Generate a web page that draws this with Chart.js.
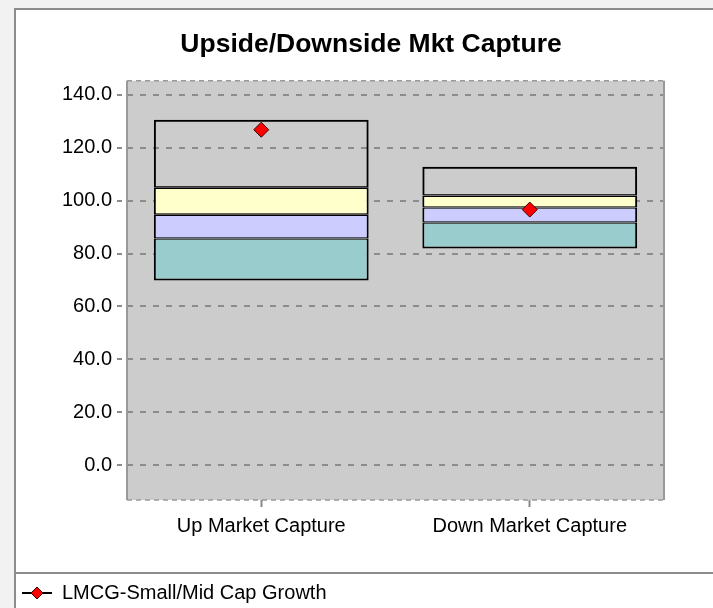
<!DOCTYPE html>
<html lang="en">
<head>
<meta charset="UTF-8">
<title>Upside/Downside Mkt Capture</title>
<script src="https://cdn.jsdelivr.net/npm/chart.js@4.4.1/dist/chart.umd.min.js"></script>
<style>
  html, body { margin: 0; padding: 0; overflow: hidden; background: #f2f2f2; }
  #wrap { position: relative; width: 728px; height: 613px; }
</style>
</head>
<body>
<div id="wrap"><canvas id="captureChart"></canvas></div>
<script>
const categories = ['Up Market Capture', 'Down Market Capture'];
// box bands, bottom to top
const boxBottom = [69.8, 81.9];
const tealTop   = [85.7, 91.7];
const purpleTop = [94.7, 97.4];
const yellowTop = [104.9, 101.9];
const boxTop    = [130.6, 112.8];
const fundValues = [126.8, 96.6];
const fundName = 'LMCG-Small/Mid Cap Growth';
const yTickValues = [0, 20, 40, 60, 80, 100, 120, 140];

Chart.defaults.color = '#000';
Chart.defaults.font.family = '"Liberation Sans", Arial, sans-serif';
Chart.defaults.font.size = 20;

// inner edges are thinner so that neighbouring bands share one line
function band(lo, hi, color, bottomW, topW) {
    return {
        type: 'bar',
        data: lo.map((v, i) => [v, hi[i]]),
        backgroundColor: color,
        borderColor: '#000',
        borderWidth: { left: 2, right: 2, top: topW, bottom: bottomW },
        borderSkipped: false,
        grouped: false,
        barPercentage: 0.8,
        categoryPercentage: 1,
        order: 2
    };
}

// little "-<>-" marker for the legend
const legendMarker = document.createElement('canvas');
legendMarker.width = 30;
legendMarker.height = 14;
(function () {
    const c = legendMarker.getContext('2d');
    c.strokeStyle = '#000';
    c.lineWidth = 2;
    c.beginPath(); c.moveTo(0, 7); c.lineTo(30, 7); c.stroke();
    c.fillStyle = '#ff0000';
    c.strokeStyle = '#400000';
    c.lineWidth = 1;
    c.beginPath();
    c.moveTo(15, 1); c.lineTo(21, 7); c.lineTo(15, 13); c.lineTo(9, 7); c.closePath();
    c.fill(); c.stroke();
})();

const panelPlugin = {
    id: 'panel',
    beforeDraw(chart) {
        const { ctx, chartArea: a } = chart;
        ctx.save();
        ctx.fillStyle = '#ffffff';
        ctx.fillRect(15, 9, chart.width, chart.height);
        ctx.strokeStyle = '#8c8c8c';
        ctx.lineWidth = 2;
        ctx.beginPath();
        ctx.moveTo(15, chart.height); ctx.lineTo(15, 9); ctx.lineTo(chart.width, 9);
        ctx.moveTo(15, 573); ctx.lineTo(chart.width, 573);
        ctx.stroke();
        ctx.fillStyle = '#cccccc';
        ctx.fillRect(a.left, a.top, a.right - a.left, a.bottom - a.top);
        ctx.restore();
    },
    beforeDatasetsDraw(chart) {
        const { ctx, chartArea: a } = chart;
        ctx.save();
        ctx.strokeStyle = '#999999';
        ctx.lineWidth = 2;
        ctx.beginPath();
        ctx.moveTo(a.left, a.top); ctx.lineTo(a.left, a.bottom);
        ctx.moveTo(a.right, a.top); ctx.lineTo(a.right, a.bottom);
        ctx.stroke();
        ctx.setLineDash([5, 4]);
        ctx.lineWidth = 1.5;
        ctx.beginPath();
        ctx.moveTo(a.left, a.top); ctx.lineTo(a.right, a.top);
        ctx.moveTo(a.left, a.bottom); ctx.lineTo(a.right, a.bottom);
        ctx.stroke();
        ctx.restore();
    }
};

new Chart(document.getElementById('captureChart'), {
    type: 'bar',
    data: {
        labels: categories,
        datasets: [
            band(boxBottom, tealTop, '#99cccc', 2, 1.3),
            band(tealTop, purpleTop, '#ccccff', 1.3, 1.3),
            band(purpleTop, yellowTop, '#ffffcc', 1.3, 1.3),
            band(yellowTop, boxTop, 'rgba(0,0,0,0)', 1.3, 2),
            {
                type: 'line',
                label: fundName,
                data: fundValues,
                showLine: false,
                pointStyle: 'rectRot',
                pointRadius: 7.5,
                pointBackgroundColor: '#ff0000',
                pointBorderColor: '#400000',
                pointBorderWidth: 1,
                order: 0
            }
        ]
    },
    options: {
        responsive: true,
        maintainAspectRatio: false,
        animation: false,
        layout: { padding: { left: 14, right: 0, top: 8, bottom: 0 } },
        plugins: {
            tooltip: { enabled: false },
            title: {
                display: true,
                text: 'Upside/Downside Mkt Capture',
                font: { family: '"Liberation Sans Narrow", "Arial Narrow", "Liberation Sans", sans-serif', size: 26.5, weight: 'bold' },
                padding: { top: 21, bottom: 20 }
            },
            legend: {
                position: 'bottom',
                align: 'start',
                labels: {
                    usePointStyle: true,
                    pointStyleWidth: 30,
                    padding: 8,
                    generateLabels: () => [{
                        text: fundName,
                        pointStyle: legendMarker,
                        fillStyle: '#ff0000',
                        strokeStyle: '#000',
                        lineWidth: 0,
                        hidden: false,
                        datasetIndex: 4
                    }]
                }
            }
        },
        scales: {
            x: {
                grid: { offset: false, drawOnChartArea: false, tickLength: 7, tickColor: '#888', tickWidth: 2 },
                border: { display: false },
                ticks: { padding: 7 },
                afterFit(scale) { scale.height = 75; }
            },
            y: {
                min: -13.2,
                max: 145.3,
                afterBuildTicks(scale) { scale.ticks = yTickValues.map(v => ({ value: v })); },
                grid: { color: '#8c8c8c', lineWidth: 2, tickLength: 10, tickColor: '#8c8c8c', tickBorderDash: [5, 10] },
                border: { display: false, dash: [6, 7] },
                ticks: { padding: 5, callback: v => v.toFixed(1) },
                afterFit(scale) { scale.width = 113; }
            },
            yRight: {
                position: 'right',
                grid: { display: false },
                border: { display: false },
                ticks: { display: false },
                afterFit(scale) { scale.width = 64; }
            }
        }
    },
    plugins: [panelPlugin]
});
</script>
</body>
</html>
